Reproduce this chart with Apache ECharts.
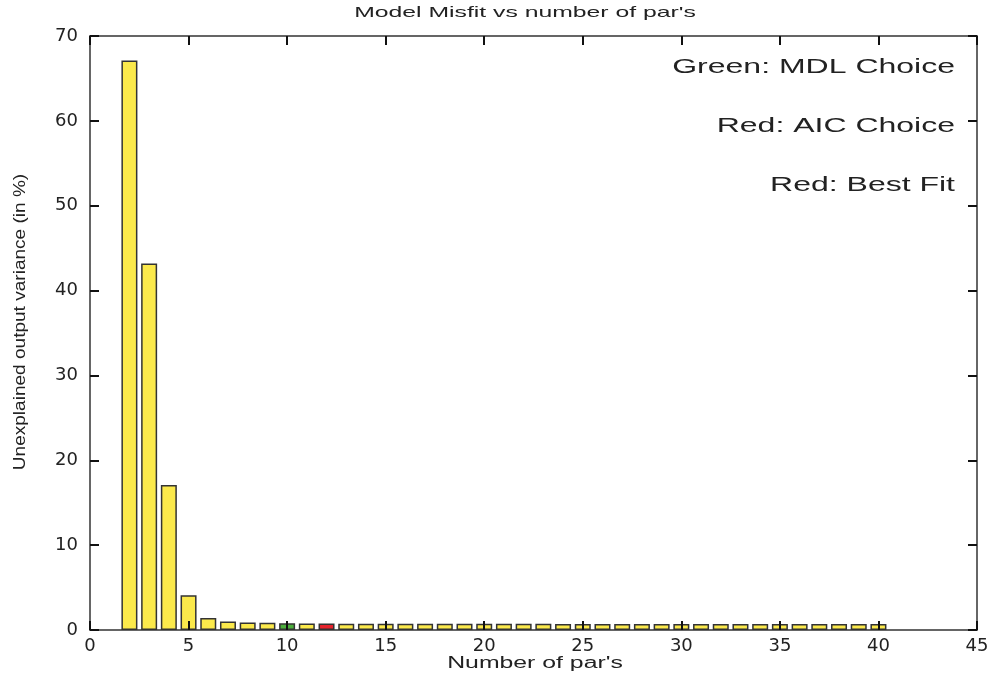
<!DOCTYPE html>
<html>
<head>
<meta charset="utf-8">
<script src="https://cdn.jsdelivr.net/npm/echarts@6/dist/echarts.min.js"></script>
<style>
  html, body { margin: 0; padding: 0; background: #fff; }
  #chart { width: 997px; height: 680px; }
</style>
</head>
<body>
<div id="chart"></div>
<script>
// number of parameters on the x axis
const parCounts = [2, 3, 4, 5, 6, 7, 8, 9, 10, 11, 12, 13, 14, 15, 16, 17, 18, 19, 20, 21,
  22, 23, 24, 25, 26, 27, 28, 29, 30, 31, 32, 33, 34, 35, 36, 37, 38, 39, 40];
// unexplained output variance (in %)
const misfit = [67.1, 43.2, 17.1, 4.1, 1.4, 1.0, 0.87, 0.86, 0.8, 0.77, 0.76, 0.74, 0.74, 0.74, 0.73, 0.73, 0.73, 0.73, 0.73, 0.73,
  0.73, 0.73, 0.72, 0.72, 0.72, 0.72, 0.72, 0.72, 0.72, 0.72, 0.72, 0.72, 0.72, 0.72, 0.72, 0.72, 0.72, 0.72, 0.72];
// highlighted choices
const mdlChoice = 10;
const aicChoice = 12;
const notes = ["Green: MDL Choice", "Red: AIC Choice", "Red: Best Fit"];
const titleText = "Model Misfit vs number of par's";
const xName = "Number of par's";
const yName = "Unexplained output variance (in %)";

const chart = echarts.init(document.getElementById("chart"));

const font = "Liberation Sans, Arial, sans-serif";
const tickFont = "DejaVu Sans, sans-serif";

// fresh objects for every axis
function tickStyle() {
  return { show: true, inside: true, length: 9, lineStyle: { color: "#111", width: 2 } };
}
function lineStyle() {
  return { show: true, onZero: false, lineStyle: { color: "#333", width: 1.5 } };
}

const barData = parCounts.map((n, i) => {
  let color = "#fbe94b";
  if (n === mdlChoice) color = "#4caf3c";
  if (n === aicChoice) color = "#e8232c";
  return { value: [n, misfit[i]], itemStyle: { color: color } };
});

// the original picture is stretched sideways, so the texts get a scaleX
const graphics = [
  {
    type: "text", x: 525, y: 13, scaleX: 1.65,
    style: { text: titleText, align: "center", verticalAlign: "middle", font: "15px " + font, fill: "#222" },
  },
  {
    type: "text", x: 535, y: 664, scaleX: 1.55,
    style: { text: xName, align: "center", verticalAlign: "middle", font: "16px " + font, fill: "#222" },
  },
  {
    type: "text", x: 20, y: 322, rotation: Math.PI / 2, scaleX: 1.12,
    style: { text: yName, align: "center", verticalAlign: "middle", font: "17px " + font, fill: "#222" },
  },
];
notes.forEach((t, i) => {
  graphics.push({
    type: "text", x: 955, y: 67 + i * 59, scaleX: 1.6,
    style: { text: t, align: "right", verticalAlign: "middle", font: "20px " + font, fill: "#222" },
  });
});

chart.setOption({
  animation: false,
  grid: { left: 90, right: 20, top: 36, bottom: 50 },
  xAxis: [
    {
      type: "value",
      z: 5,
      min: 0,
      max: 45,
      interval: 5,
      axisLine: lineStyle(),
      axisTick: tickStyle(),
      axisLabel: { fontFamily: tickFont, fontSize: 18, color: "#222", margin: 7 },
      splitLine: { show: false },
    },
    {
      type: "value",
      z: 5,
      position: "top",
      min: 0,
      max: 45,
      interval: 5,
      axisLine: lineStyle(),
      axisTick: tickStyle(),
      axisLabel: { show: false },
      splitLine: { show: false },
    },
  ],
  yAxis: [
    {
      type: "value",
      z: 5,
      min: 0,
      max: 70,
      interval: 10,
      axisLine: lineStyle(),
      axisTick: tickStyle(),
      axisLabel: { fontFamily: tickFont, fontSize: 18, color: "#222", margin: 12 },
      splitLine: { show: false },
    },
    {
      type: "value",
      z: 5,
      position: "right",
      min: 0,
      max: 70,
      interval: 10,
      axisLine: lineStyle(),
      axisTick: tickStyle(),
      axisLabel: { show: false },
      splitLine: { show: false },
    },
  ],
  graphic: graphics,
  series: [
    {
      type: "bar",
      xAxisIndex: 0,
      yAxisIndex: 0,
      barWidth: 16,
      itemStyle: { borderColor: "#333", borderWidth: 1.5 },
      data: barData,
    },
  ],
});
</script>
</body>
</html>
